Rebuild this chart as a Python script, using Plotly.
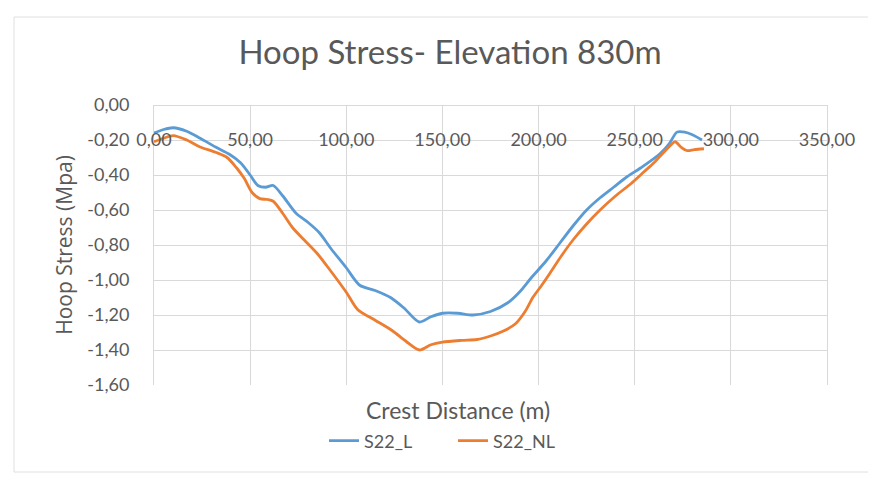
import plotly.graph_objects as go

# ---- data ----
x_L = [0, 5, 10, 17, 24, 32, 39, 45, 50, 54, 58, 62, 67, 74, 80, 86, 92, 100,
       107, 115, 123, 130, 138, 144, 150, 158, 166, 175, 184, 190, 196, 204,
       211, 218, 225, 232, 239, 246, 253, 263, 268, 272, 276, 280, 285]
s22_L = [-0.16, -0.14, -0.13, -0.15, -0.19, -0.24, -0.28, -0.33, -0.40, -0.46,
         -0.47, -0.46, -0.52, -0.62, -0.67, -0.73, -0.82, -0.93, -1.03, -1.06,
         -1.10, -1.16, -1.24, -1.21, -1.19, -1.19, -1.20, -1.18, -1.13, -1.07,
         -0.99, -0.89, -0.79, -0.69, -0.60, -0.53, -0.47, -0.41, -0.36, -0.28,
         -0.22, -0.155, -0.155, -0.17, -0.20]

x_NL = [0, 5, 10, 17, 24, 32, 38, 43, 47, 51, 55, 59, 62, 67, 72, 78, 85, 92,
        100, 106, 115, 124, 131, 138, 144, 150, 160, 168, 175, 182, 188, 193,
        197, 201, 206, 212, 218, 225, 232, 240, 248, 255, 260, 266, 271, 274,
        277, 281, 286]
s22_NL = [-0.21, -0.19, -0.175, -0.20, -0.24, -0.27, -0.30, -0.36, -0.42, -0.50,
          -0.535, -0.54, -0.55, -0.62, -0.70, -0.77, -0.85, -0.95, -1.07, -1.17,
          -1.23, -1.29, -1.35, -1.40, -1.37, -1.355, -1.345, -1.34, -1.32, -1.29,
          -1.25, -1.18, -1.10, -1.04, -0.96, -0.86, -0.77, -0.68, -0.60, -0.52,
          -0.45, -0.38, -0.33, -0.26, -0.21, -0.24, -0.26, -0.255, -0.25]

x_tickvals = [0, 50, 100, 150, 200, 250, 300, 350]
x_ticktext = ["0,00", "50,00", "100,00", "150,00", "200,00", "250,00", "300,00", "350,00"]
y_tickvals = [0, -0.2, -0.4, -0.6, -0.8, -1.0, -1.2, -1.4, -1.6]
y_ticktext = ["0,00", "-0,20", "-0,40", "-0,60", "-0,80", "-1,00", "-1,20", "-1,40", "-1,60"]

FONT = "Lato"
GREY = "#595959"
GRID = "#d9d9d9"

# the page body has an 8px margin, so the figure is 8px smaller and all
# pixel positions below are given relative to the figure's own origin
W, H = 868, 473
PL, PR, PT, PB = 146, 819, 97, 377   # plot area edges inside the figure
PW, PHt = PR - PL, PB - PT

fig = go.Figure()
fig.add_trace(go.Scatter(x=x_L, y=s22_L, mode="lines", name="S22_L",
                         line=dict(color="#5B9BD5", width=2.8, shape="spline", smoothing=0.8)))
fig.add_trace(go.Scatter(x=x_NL, y=s22_NL, mode="lines", name="S22_NL",
                         line=dict(color="#ED7D31", width=2.8, shape="spline", smoothing=0.8)))

fig.update_layout(
    width=W, height=H,
    margin=dict(l=PL, r=W - PR, t=PT, b=H - PB),
    paper_bgcolor="white", plot_bgcolor="white",
    font=dict(family=FONT, color=GREY),
    title=dict(text="Hoop Stress- Elevation 830m", x=442 / W, xanchor="center",
               y=1 - 44 / H, yanchor="middle",
               font=dict(family=FONT, size=33, color=GREY)),
    showlegend=True,
    legend=dict(orientation="h", x=(316 - PL) / PW, xanchor="left",
                y=(PB - 433) / PHt, yanchor="middle",
                entrywidth=84, entrywidthmode="pixels",
                font=dict(family=FONT, size=18, color=GREY),
                bgcolor="rgba(0,0,0,0)"),
    xaxis=dict(range=[0, 350], tickvals=x_tickvals, ticktext=x_ticktext,
               anchor="free", position=1, side="bottom",
               ticks="outside", ticklen=18, tickcolor="rgba(0,0,0,0)",
               tickfont=dict(family=FONT, size=18, color=GREY),
               showgrid=True, gridcolor=GRID, gridwidth=1,
               showline=True, linecolor=GRID, linewidth=1,
               zeroline=False, automargin=False),
    yaxis=dict(range=[-1.6, 0], tickvals=y_tickvals, ticktext=y_ticktext,
               ticks="outside", ticklen=20, tickcolor="rgba(0,0,0,0)",
               tickfont=dict(family=FONT, size=18, color=GREY),
               showgrid=True, gridcolor=GRID, gridwidth=1,
               showline=True, linecolor=GRID, linewidth=1, mirror=True,
               zeroline=False, automargin=False,
               title=dict(text="Hoop Stress (Mpa)", standoff=8,
                          font=dict(family="Open Sans", size=21, color=GREY))),
)

fig.add_annotation(text="Crest Distance (m)", xref="paper", yref="paper",
                   x=(450 - PL) / PW, y=(PB - 402) / PHt,
                   xanchor="center", yanchor="middle", showarrow=False,
                   font=dict(family=FONT, size=23, color=GREY))

# outer chart frame
fig.add_shape(type="rect", xref="paper", yref="paper",
              x0=(6 - PL) / PW, x1=(867 - PL) / PW,
              y0=(PB - 464) / PHt, y1=(PB - 9) / PHt,
              line=dict(color="#e0e0e0", width=1), fillcolor="rgba(0,0,0,0)",
              layer="below")

fig.write_html("out.html")
